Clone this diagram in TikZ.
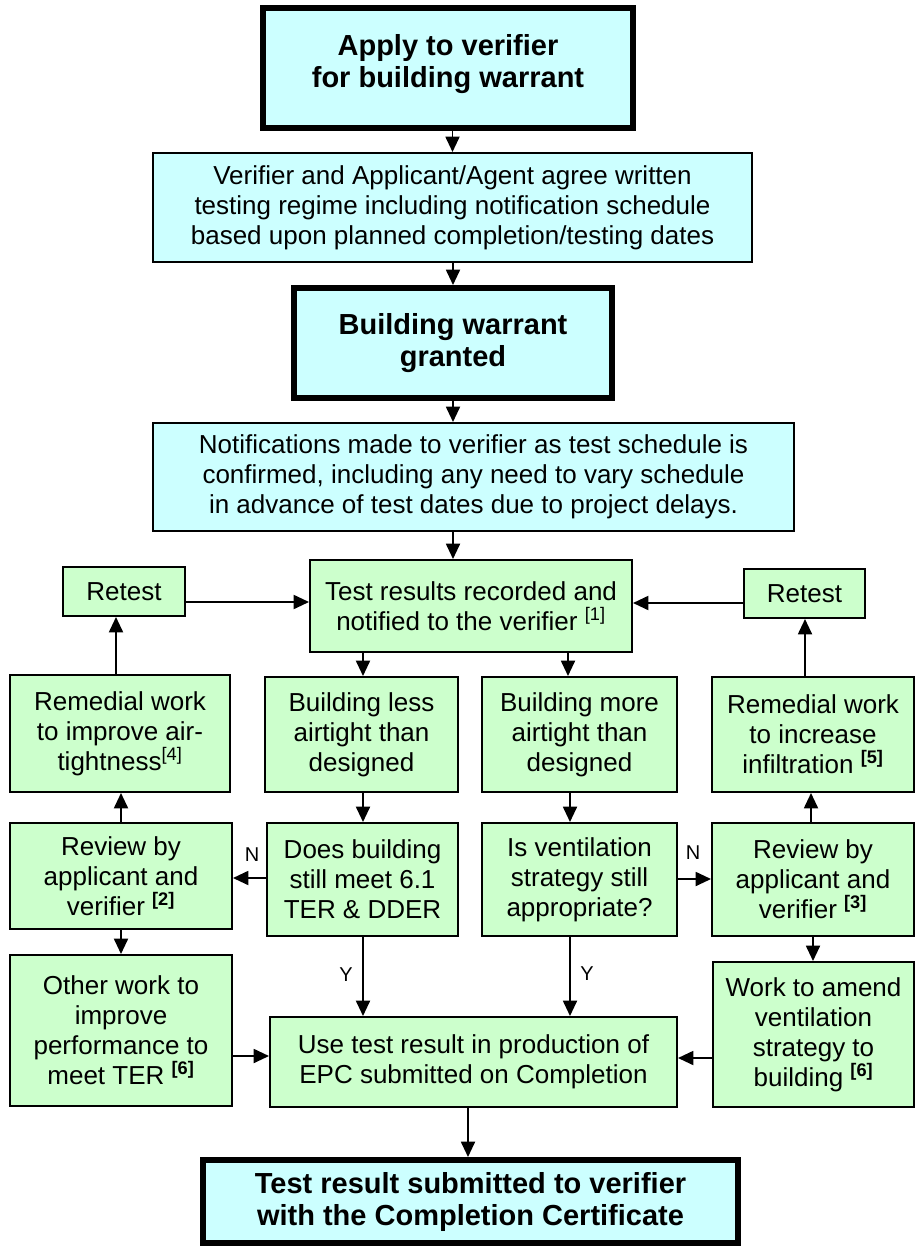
\documentclass[tikz,border=0pt]{standalone}
\usepackage{fontspec}
\setmainfont{Liberation Sans}
\usetikzlibrary{arrows.meta}
\definecolor{cy}{HTML}{CCFFFF}
\definecolor{gr}{HTML}{CCFFCC}
\tikzset{
 base/.style={draw=black, rectangle, align=center, inner sep=0pt, text=black},
 cbox/.style={base, fill=cy, line width=1.5pt, font=\fontsize{19.5}{22.5}\selectfont},
 tbox/.style={base, fill=cy, line width=4.5pt, font=\fontsize{21.75}{24}\selectfont\bfseries},
 gbox/.style={base, fill=gr, line width=1.5pt, font=\fontsize{19.5}{22.5}\selectfont},
 arr/.style={draw=black, line width=1.4pt, -{Triangle[length=11.5pt,width=10.5pt]}},
 lbl/.style={font=\fontsize{15}{18}\selectfont, inner sep=0pt}
}
\newcommand\bx[7]{\node[#6, minimum width={(#4-#2)*0.75pt}, minimum height={(#5-#3)*0.75pt}] (#1) at ({(#2+#4)/2},{(#3+#5)/2}) {#7};}
\newcommand\sref[1]{\textsuperscript{[#1]}}
\newcommand\bref[1]{\textsuperscript{\bfseries[#1]}}
\begin{document}
\begin{tikzpicture}[x=0.75pt,y=-0.75pt]
\useasboundingbox (0,0) rectangle (915,1248);
\bx{apply}{263}{8}{633}{128}{tbox}{Apply to verifier\\for building warrant\\[-13.5pt]\mbox{}}
\bx{verif}{153}{153}{752}{262}{cbox}{Verifier and Applicant/Agent agree written\\testing regime including notification schedule\\based upon planned completion/testing dates}
\bx{warrant}{294}{288}{612}{398}{tbox}{Building warrant\\granted}
\bx{notif}{153}{423}{794}{531}{cbox}{Notifications made to verifier as test schedule is\\confirmed, including any need to vary schedule\\in advance of test dates due to project delays.}
\bx{test}{310}{560}{632}{652}{gbox}{Test results recorded and\\notified to the verifier \sref{1}}
\bx{retestL}{63}{567}{185}{616}{gbox}{Retest}
\bx{retestR}{744}{569}{865}{618}{gbox}{Retest}
\bx{remL}{10}{675}{230}{792}{gbox}{Remedial work\\to improve air-\\tightness\sref{4}}
\bx{less}{265}{677}{458}{792}{gbox}{Building less\\airtight than\\designed}
\bx{more}{482}{677}{677}{792}{gbox}{Building more\\airtight than\\designed}
\bx{remR}{712}{677}{914}{792}{gbox}{Remedial work\\to increase\\infiltration \bref{5}}
\bx{revL}{10}{823}{232}{929}{gbox}{Review by\\applicant and\\verifier \bref{2}}
\bx{does}{267}{823}{458}{936}{gbox}{Does building\\still meet 6.1\\TER \& DDER}
\bx{isv}{482}{823}{677}{936}{gbox}{Is ventilation\\strategy still\\appropriate?}
\bx{revR}{712}{823}{914}{936}{gbox}{Review by\\applicant and\\verifier \bref{3}}
\bx{other}{10}{955}{232}{1106}{gbox}{Other work to\\improve\\performance to\\meet TER \bref{6}}
\bx{use}{270}{1017}{677}{1107}{gbox}{Use test result in production of\\EPC submitted on Completion}
\bx{work}{713}{962}{914}{1107}{gbox}{Work to amend\\ventilation\\strategy to\\building \bref{6}}
\bx{final}{203}{1160}{738}{1243}{tbox}{Test result submitted to verifier\\with the Completion Certificate}
% connectors
\draw[arr] (apply.south -| verif.north) -- (verif.north);
\draw[arr] (verif.south -| warrant.north) -- (warrant.north);
\draw[arr] (warrant.south) -- (warrant.south |- notif.north);
\draw[arr] (warrant.south |- notif.south) -- (warrant.south |- test.north);
\draw[arr] (retestL.east |- 0,602) -- (test.west |- 0,602);
\draw[arr] (retestR.west |- 0,603) -- (test.east |- 0,603);
\draw[arr] (test.south -| 363,0) -- (less.north -| 363,0);
\draw[arr] (test.south -| 568,0) -- (more.north -| 568,0);
\draw[arr] (remL.north -| 116,0) -- (retestL.south -| 116,0);
\draw[arr] (revL.north) -- (remL.south -| revL.north);
\draw[arr] (less.south -| 363,0) -- (does.north -| 363,0);
\draw[arr] (more.south -| 570,0) -- (isv.north -| 570,0);
\draw[arr] (does.west |- 0,878) -- (revL.east |- 0,878);
\draw[arr] (isv.east |- 0,879) -- (revR.west |- 0,879);
\draw[arr] (revL.south) -- (other.north -| revL.south);
\draw[arr] (revR.north -| 811,0) -- (remR.south -| 811,0);
\draw[arr] (remR.north -| 805,0) -- (retestR.south -| 805,0);
\draw[arr] (revR.south -| 813,0) -- (work.north -| 813,0);
\draw[arr] (does.south -| 363,0) -- (use.north -| 363,0);
\draw[arr] (isv.south -| 570,0) -- (use.north -| 570,0);
\draw[arr] (other.east |- 0,1056) -- (use.west |- 0,1056);
\draw[arr] (work.west |- 0,1058) -- (use.east |- 0,1058);
\draw[arr] (use.south -| 468,0) -- (final.north -| 468,0);
% labels
\node[lbl] (n1) at (252,855) {N};
\node[lbl] (n2) at (693,853) {N};
\node[lbl] (y1) at (346,975) {Y};
\node[lbl] (y2) at (587,974) {Y};
\end{tikzpicture}
\end{document}
